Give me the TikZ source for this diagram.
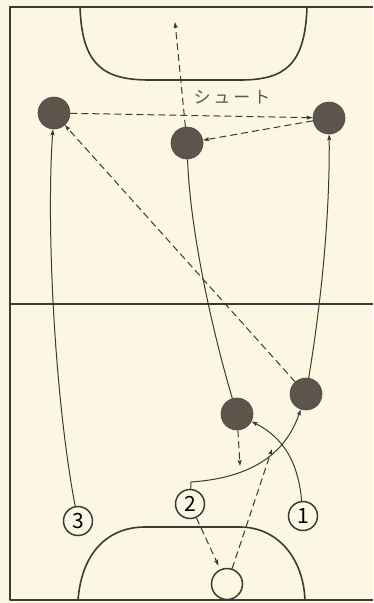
\documentclass[tikz,border=0pt]{standalone}
\usepackage{fontspec}
\newfontfamily\jpfont{Noto Sans CJK JP}
\usetikzlibrary{arrows.meta}
\definecolor{paper}{HTML}{FBF7E2}
\definecolor{ink}{HTML}{3E3934}
\definecolor{puck}{HTML}{5C554C}

\begin{document}
\begin{tikzpicture}[x=1pt, y=-1pt, line join=round,
    player/.style={circle, fill=puck, draw=puck!85!black, line width=0.6pt, minimum size=32pt, inner sep=0pt},
    numbered/.style={circle, draw=ink, line width=1.5pt, fill=paper, minimum size=29pt, inner sep=0pt, font=\jpfont\fontsize{21}{21}\selectfont},
    run/.style={draw=ink, line width=1pt},
    pass/.style={draw=ink, line width=1pt, dash pattern=on 7pt off 4pt},
    tip/.style={-{Stealth[length=6pt, width=4pt, inset=1pt]}}]
    \fill[paper] (0,0) rectangle (373,603);
    \useasboundingbox (0,0) rectangle (373,603);
    \draw[ink, line width=1.6pt] (373,7) -- (10,7) -- (10,600) -- (373,600);
    \draw[ink, line width=1.2pt] (10,304) -- (373,304);
    \draw[ink, line width=1.6pt] (80,7) .. controls (82,66) and (104,80) .. (150,80) -- (240,80) .. controls (286,80) and (305,64) .. (307,7);
    \draw[ink, line width=1.6pt] (78,600) .. controls (82,550) and (110,527) .. (145,527) -- (240,527) .. controls (275,527) and (303,555) .. (305,600);

    \node[player] (pA) at (54,113) {};
    \node[player] (pB) at (187,143) {};
    \node[player] (pC) at (329,118) {};
    \node[player] (pD) at (237,414) {};
    \node[player] (pE) at (306,394) {};
    \node[numbered] (n3) at (78,521) {3};
    \node[numbered] (n2) at (190,504) {2};
    \node[numbered] (n1) at (303,516) {1};
    \node[numbered, minimum size=31pt] (gk) at (227,584) {};
    \node[font=\jpfont\fontsize{17}{17}\selectfont, text=ink!85] (jp) at (232,97) {シ\hspace{3pt}ュ\hspace{3pt}ー\hspace{3pt}ト};
    \coordinate (shoot) at (175,22);
    \coordinate (kink) at (191,482);
    \coordinate (catch1) at (240,466);
    \coordinate (catch2) at (272,449);

    % runs
    \draw[run, tip] (n3) .. controls (55,400) and (46,230) .. (pA);
    \draw[run, tip] (n1) .. controls (298,460) and (282,437) .. (pD);
    \draw[run, tip] (n2) -- (kink) .. controls (250,478) and (285,455) .. (pE);
    \draw[run] (pD) .. controls (212,330) and (190,230) .. (pB);
    \draw[run, tip] (pE) .. controls (320,310) and (330,220) .. (pC);
    % passes
    \draw[pass, tip, shorten >=4pt] (n2) -- (gk);
    \draw[pass, tip] (gk) -- (catch2);
    \draw[pass, tip] (pD) -- (catch1);
    \draw[pass, tip] (pE) -- (pA);
    \draw[pass, tip] (pA) -- (pC);
    \draw[pass, tip] (pC) -- (pB);
    \draw[pass, tip] (pB) -- (shoot);
\end{tikzpicture}
\end{document}
